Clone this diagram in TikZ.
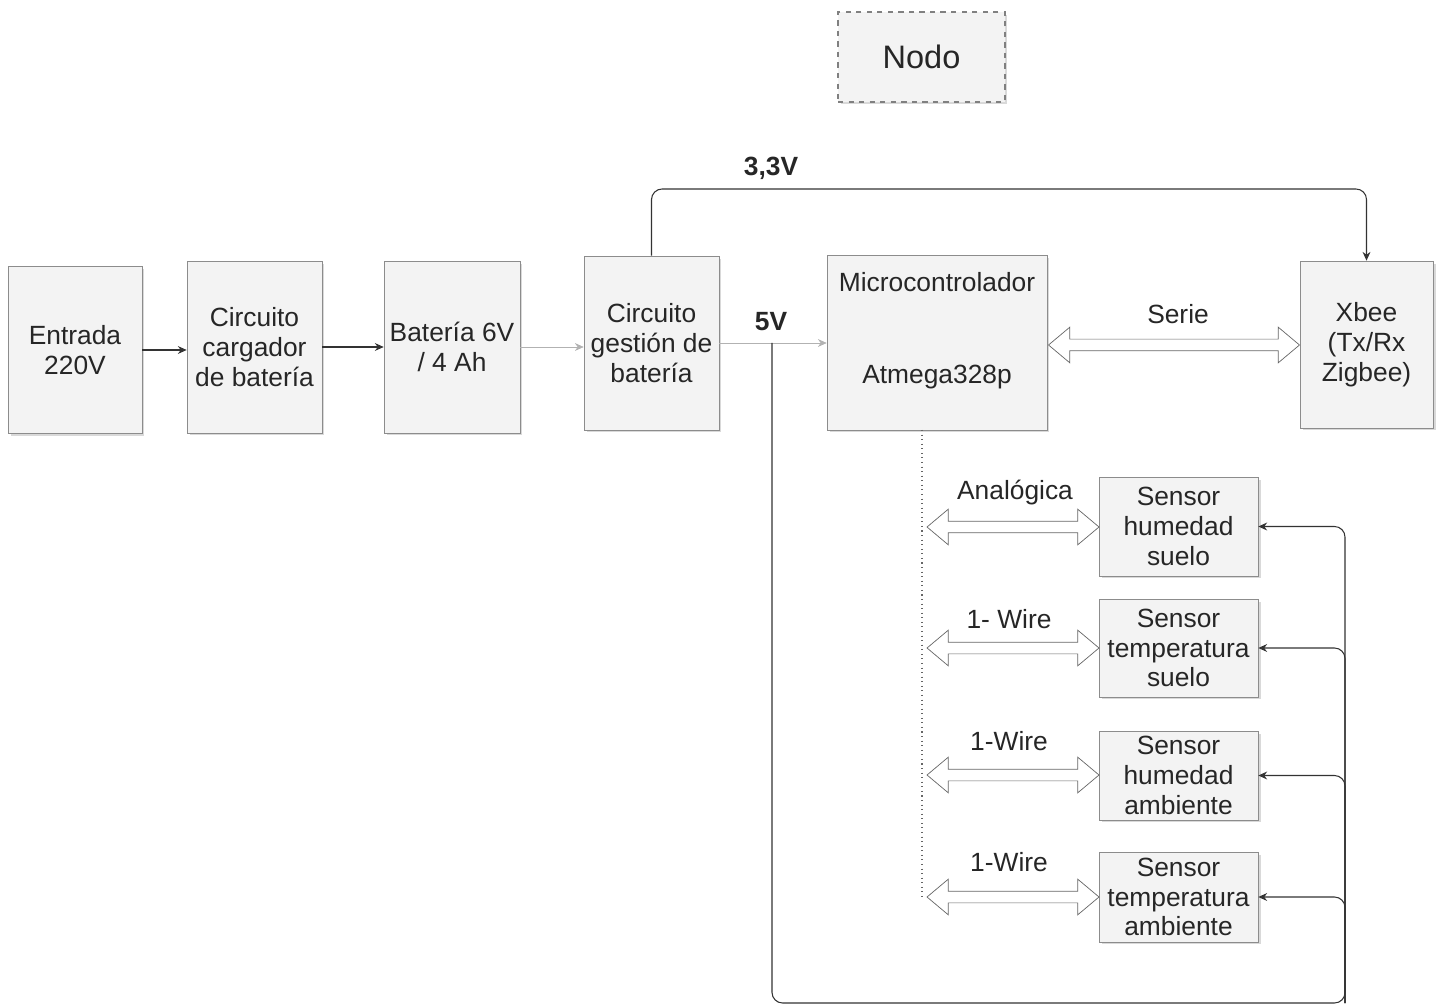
\documentclass[tikz,border=0pt]{standalone}
\usepackage{fontspec}
\setmainfont{Liberation Sans}
\usetikzlibrary{shapes, arrows.meta, positioning, shadows}
\definecolor{boxfill}{HTML}{F3F3F3}
\definecolor{boxline}{HTML}{8C8C8C}
\tikzstyle{blk} = [rectangle, draw=boxline, fill=boxfill, align=center, inner sep=2pt, text=black!85, font=\fontsize{15}{17}\selectfont, drop shadow={shadow xshift=0.05cm, shadow yshift=-0.05cm, opacity=0.3}]
\tikzstyle{line} = [draw, line width=0.6pt, black!80]
\tikzstyle{arr} = [line, -{Stealth[length=5pt, width=4.5pt]}]
\tikzstyle{dbl} = [double arrow, draw=black!60, fill=white, inner xsep=0pt, inner ysep=0.11cm, text height=0pt, text depth=0pt, minimum width=0.7cm, double arrow head extend=0.24cm, double arrow tip angle=80]
\tikzstyle{lbl} = [text=black!85, inner sep=1pt, font=\fontsize{15}{17}\selectfont]

\begin{document}
\begin{tikzpicture}[x=0.02cm, y=-0.02cm]
			\useasboundingbox (0,0) rectangle (1443,1006);
			\node [blk, dashed, draw=gray, line width=0.8pt, minimum width=3.34cm, minimum height=1.8cm, font=\fontsize{18.5}{21}\selectfont] (nodo) at (921.5,57) {Nodo};

			\node [blk, minimum width=2.68cm, minimum height=3.34cm] (entrada) at (75,350) {Entrada\\220V};
			\node [blk, minimum width=2.7cm, minimum height=3.44cm] (cargador) at (254.5,347) {Circuito\\cargador\\de batería};
			\node [blk, minimum width=2.72cm, minimum height=3.44cm] (bateria) at (452,347) {Batería 6V\\/ 4 Ah};
			\node [blk, minimum width=2.7cm, minimum height=3.48cm] (gestion) at (651.5,343) {Circuito\\gestión de\\batería};
			\node [blk, minimum width=4.4cm, minimum height=3.5cm] (micro) at (937,342.5) {};
			\node [lbl] (microtxt) at (937,282) {Microcontrolador};
			\node [lbl] (atmega) at (937,377) {Atmega328p};
			\node [blk, minimum width=2.66cm, minimum height=3.34cm] (xbee) at (1366.5,344.5) {Xbee\\(Tx/Rx\\Zigbee)};

			\node [blk, minimum width=3.18cm, minimum height=1.98cm] (hs) at (1178.5,526.5) {Sensor\\humedad\\suelo};
			\node [blk, minimum width=3.18cm, minimum height=1.96cm] (ts) at (1178.5,648) {Sensor\\temperatura\\suelo};
			\node [blk, minimum width=3.18cm, minimum height=1.78cm] (ha) at (1178.5,775.5) {Sensor\\humedad\\ambiente};
			\node [blk, minimum width=3.18cm, minimum height=1.8cm] (ta) at (1178.5,897) {Sensor\\temperatura\\ambiente};

			% buses
			\node [dbl, minimum height=5.02cm] (aser) at (1174,345) {};
			\node [dbl, minimum height=3.44cm] (a1) at (1013,527) {};
			\node [dbl, minimum height=3.44cm] (a2) at (1013,648) {};
			\node [dbl, minimum height=3.44cm] (a3) at (1013,775) {};
			\node [dbl, minimum height=3.44cm] (a4) at (1013,897) {};
			\node [lbl] (lser) at (1178,314) {Serie};
			\node [lbl] (l1) at (1015,493) {Analógica};
			\node [lbl] (l2) at (1009,619) {1- Wire};
			\node [lbl] (l3) at (1009,741) {1-Wire};
			\node [lbl] (l4) at (1009,862) {1-Wire};

			% power
			\node [lbl, font=\fontsize{15}{17}\selectfont\bfseries] (l33) at (771,168) {3,3V};
			\node [lbl, font=\fontsize{15}{17}\selectfont\bfseries] (l5) at (771,322) {5V};
			\coordinate (c33) at (1000,189);
			\coordinate (j5) at (772,343);
			\coordinate (bus) at (1345,1003);
			\coordinate (dtop) at (922,430);

			\path [arr] (entrada.east) -- (entrada.east -| cargador.west);
			\path [arr] (cargador) -- (bateria);
			\path [arr, black!30, line width=0.4pt] (bateria.east) -- (bateria.east -| gestion.west);
			\path [arr, black!30, line width=0.4pt] (gestion.east) -- (gestion.east -| micro.west);
			\path [arr, rounded corners=6pt] (gestion.north) |- (c33) -| (xbee.north);
			\path [arr, rounded corners=6pt] (j5) |- (bus) |- (hs.east);
			\path [arr, rounded corners=6pt] (bus) |- (ts.east);
			\path [arr, rounded corners=6pt] (bus) |- (ha.east);
			\path [arr, rounded corners=6pt] (bus) |- (ta.east);
			\draw [dotted, black!60, line width=0.6pt] (dtop) -- (dtop |- ta.west);
		\end{tikzpicture}
\end{document}
